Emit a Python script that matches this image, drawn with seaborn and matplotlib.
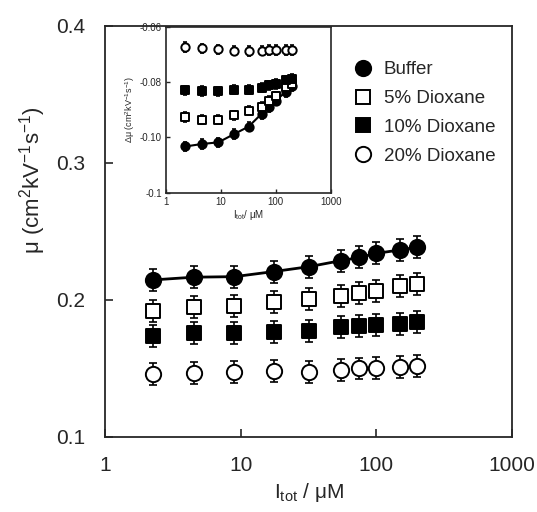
import numpy as np
import pandas as pd
import seaborn as sns
import matplotlib.pyplot as plt
from matplotlib.lines import Line2D

conc = [2.25, 4.5, 9, 17.5, 32, 55, 75, 100, 150, 200]

mu_buffer = [0.2146, 0.2166, 0.217, 0.2207, 0.2243, 0.2287, 0.231, 0.234, 0.2365, 0.2385]
mu_diox5 = [0.192, 0.1947, 0.1956, 0.1983, 0.2007, 0.2029, 0.2049, 0.2068, 0.2104, 0.2115]
mu_diox10 = [0.1737, 0.1757, 0.1761, 0.1769, 0.1774, 0.1805, 0.181, 0.1815, 0.1825, 0.1837]
mu_diox20 = [0.146, 0.1465, 0.1477, 0.1484, 0.1472, 0.149, 0.150, 0.1505, 0.1513, 0.152]
mu_err = 0.008

dmu_buffer = [-0.1033, -0.1024, -0.1018, -0.0988, -0.0961, -0.0915, -0.0891, -0.0867, -0.0836, -0.0816]
dmu_diox5 = [-0.0927, -0.0936, -0.0936, -0.0921, -0.0903, -0.0891, -0.0869, -0.0852, -0.0818, -0.0806]
dmu_diox10 = [-0.083, -0.0833, -0.0834, -0.0828, -0.0828, -0.082, -0.0812, -0.0808, -0.0794, -0.0788]
dmu_diox20 = [-0.0673, -0.0679, -0.0682, -0.0687, -0.0688, -0.0687, -0.0685, -0.0685, -0.0685, -0.0685]
dmu_err = 0.0017

groups = ["Buffer", "5% Dioxane", "10% Dioxane", "20% Dioxane"]
markers = {"Buffer": "o", "5% Dioxane": "s", "10% Dioxane": "s", "20% Dioxane": "o"}
faces = {"Buffer": "black", "5% Dioxane": "white", "10% Dioxane": "black", "20% Dioxane": "white"}

main_df = pd.DataFrame({
    "conc": conc * 4,
    "mu": mu_buffer + mu_diox5 + mu_diox10 + mu_diox20,
    "group": np.repeat(groups, len(conc)),
})
inset_df = pd.DataFrame({
    "conc": conc * 4,
    "mu": dmu_buffer + dmu_diox5 + dmu_diox10 + dmu_diox20,
    "group": np.repeat(groups, len(conc)),
})

sns.set_style("ticks")
plt.rcParams["font.family"] = ["Liberation Sans", "DejaVu Sans"]
plt.rcParams["mathtext.fontset"] = "custom"
plt.rcParams["mathtext.rm"] = "Liberation Sans"
plt.rcParams["mathtext.it"] = "Liberation Sans"

fig = plt.figure(figsize=(5.37, 5.12), dpi=100)
ax = fig.add_axes([0.1955, 0.1465, 0.758, 0.803])
axin = fig.add_axes([0.309, 0.6236, 0.307, 0.3244])


def draw(a, df, err, size, msize_sq, lw):
    buf = df[df["group"] == "Buffer"]
    sns.lineplot(data=buf, x="conc", y="mu", color="black", lw=lw, ax=a, zorder=2)
    for g in groups:
        d = df[df["group"] == g]
        a.errorbar(d["conc"], d["mu"], yerr=err, fmt="none", ecolor="black",
                   elinewidth=1.2, capsize=size * 0.25, capthick=1.2, zorder=2)
        s = size ** 2 if markers[g] == "o" else msize_sq ** 2
        sns.scatterplot(data=d, x="conc", y="mu", marker=markers[g], s=s,
                        facecolor=faces[g], edgecolor="black", linewidth=1.4,
                        ax=a, zorder=3, legend=False)


draw(ax, main_df, mu_err, 11, 9.5, 2)
ax.set_xscale("log")
ax.set_xlim(1, 1000)
ax.set_ylim(0.1, 0.4)
ax.set_yticks([0.1, 0.2, 0.3, 0.4])
ax.set_xticks([1, 10, 100, 1000])
ax.set_xticklabels(["1", "10", "100", "1000"])
ax.minorticks_off()
ax.tick_params(direction="in", labelsize=15, length=6, width=1.2, pad=14)
for sp in ax.spines.values():
    sp.set_linewidth(1.3)
ax.set_xlabel(r"I$_{\rm tot}$ / $\mu$M", fontsize=15, labelpad=4)
ax.set_ylabel(r"$\mu$ (cm$^2$kV$^{-1}$s$^{-1}$)", fontsize=16)
ax.yaxis.set_label_coords(-0.14, 0.625)

handles = [Line2D([], [], ls="none", marker=markers[g], markersize=11 if markers[g] == "o" else 10,
                  markerfacecolor=faces[g], markeredgecolor="black", markeredgewidth=1.4)
           for g in groups]
ax.legend(handles, groups, loc="upper left", bbox_to_anchor=(0.57, 0.955), frameon=False,
          fontsize=13.5, handlelength=1.0, handletextpad=0.6, labelspacing=0.62)

draw(axin, inset_df, dmu_err, 6, 5.5, 1.5)
axin.set_xscale("log")
axin.set_xlim(1, 1000)
axin.set_ylim(-0.12, -0.06)
axin.set_yticks([-0.12, -0.10, -0.08, -0.06])
axin.set_yticklabels(["-0.1", "-0.10", "-0.08", "-0.06"])
axin.set_xticks([1, 10, 100, 1000])
axin.set_xticklabels(["1", "10", "100", "1000"])
axin.minorticks_off()
axin.tick_params(direction="in", labelsize=7, length=3, width=1, pad=3)
for sp in axin.spines.values():
    sp.set_linewidth(1.2)
axin.set_xlabel(r"I$_{\rm tot}$/ $\mu$M", fontsize=7, labelpad=1)
axin.set_ylabel(r"$\Delta\mu$ (cm$^2$kV$^{-1}$s$^{-1}$)", fontsize=6.5, labelpad=2)

fig.savefig("out.png", dpi=100)
